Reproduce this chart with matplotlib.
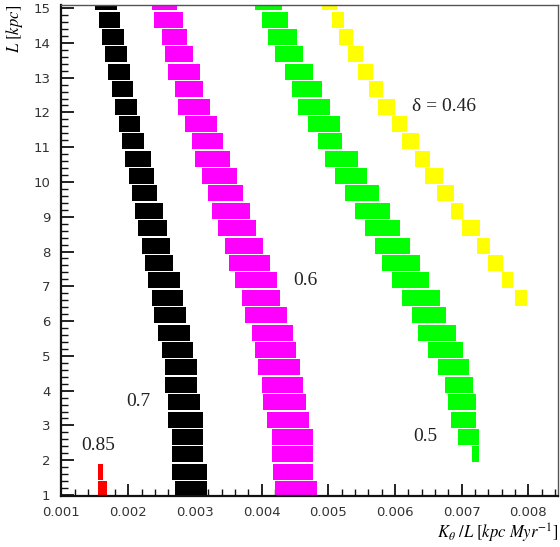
import numpy as np
import matplotlib
matplotlib.use('Agg')
import matplotlib.pyplot as plt
from matplotlib.ticker import MultipleLocator, FormatStrFormatter

plt.rcParams['mathtext.fontset'] = 'stix'

# L rows (kpc), top to bottom
L_rows = [15, 14.5, 14, 13.5, 13, 12.5, 12, 11.5, 11, 10.5, 10, 9.5, 9, 8.5, 8,
          7.5, 7, 6.5, 6, 5.5, 5, 4.5, 4, 3.5, 3, 2.5, 2, 1.5, 1]

# delta = 0.7 (black), x extent per row in kpc/Myr
black_lo = [0.001502, 0.001562, 0.001607, 0.001652, 0.001697, 0.001757, 0.001802,
            0.001862, 0.001907, 0.001952, 0.002012, 0.002057, 0.002102, 0.002147,
            0.002207, 0.002252, 0.002297, 0.002357, 0.002387, 0.002447, 0.002507,
            0.002552, 0.002552, 0.002597, 0.002597, 0.002657, 0.002657, 0.002657,
            0.002702]
black_hi = [0.001832, 0.001877, 0.001937, 0.001982, 0.002027, 0.002072, 0.002132,
            0.002177, 0.002237, 0.002342, 0.002387, 0.002432, 0.002522, 0.002582,
            0.002627, 0.002672, 0.002777, 0.002822, 0.002867, 0.002927, 0.002972,
            0.003031, 0.003031, 0.003076, 0.003121, 0.003121, 0.003121, 0.003181,
            0.003181]

# delta = 0.6 (magenta)
mag_lo = [0.002357, 0.002387, 0.002507, 0.002552, 0.002597, 0.002702, 0.002747,
          0.002852, 0.002957, 0.003001, 0.003106, 0.003196, 0.003256, 0.003346,
          0.003451, 0.003511, 0.003601, 0.003706, 0.003751, 0.003856, 0.003901,
          0.003946, 0.004006, 0.004021, 0.004081, 0.004156, 0.004156, 0.004171,
          0.004201]
mag_hi = [0.002732, 0.002822, 0.002882, 0.002972, 0.003076, 0.003121, 0.003226,
          0.003331, 0.003421, 0.003526, 0.003631, 0.003721, 0.003826, 0.003916,
          0.004021, 0.004126, 0.004231, 0.004276, 0.004381, 0.004471, 0.004516,
          0.004576, 0.004621, 0.004666, 0.004711, 0.004771, 0.004771, 0.004771,
          0.004831]

# delta = 0.5 (green), rows L = 15 ... 2
green_L = [15, 14.5, 14, 13.5, 13, 12.5, 12, 11.5, 11, 10.5, 10, 9.5, 9, 8.5, 8,
           7.5, 7, 6.5, 6, 5.5, 5, 4.5, 4, 3.5, 3, 2.5, 2]
green_lo = [0.003901, 0.004006, 0.004096, 0.004201, 0.004351, 0.004456, 0.004546,
            0.004696, 0.004846, 0.004951, 0.005100, 0.005250, 0.005400, 0.005550,
            0.005700, 0.005805, 0.005955, 0.006105, 0.006255, 0.006345, 0.006495,
            0.006645, 0.006750, 0.006795, 0.006840, 0.006945, 0.007154]
green_hi = [0.004306, 0.004396, 0.004531, 0.004621, 0.004771, 0.004906, 0.005025,
            0.005175, 0.005205, 0.005445, 0.005580, 0.005760, 0.005925, 0.006075,
            0.006225, 0.006375, 0.006510, 0.006675, 0.006765, 0.006915, 0.007019,
            0.007109, 0.007169, 0.007214, 0.007214, 0.007259, 0.007259]

# delta = 0.46 (yellow), rows L = 15 ... 6.5
yel_L = [15, 14.5, 14, 13.5, 13, 12.5, 12, 11.5, 11, 10.5, 10, 9.5, 9, 8.5, 8,
         7.5, 7, 6.5]
yel_lo = [0.004906, 0.005055, 0.005160, 0.005295, 0.005445, 0.005610, 0.005745,
          0.005955, 0.006105, 0.006300, 0.006450, 0.006630, 0.006840, 0.007004,
          0.007229, 0.007394, 0.007604, 0.007799]
yel_hi = [0.005130, 0.005235, 0.005370, 0.005520, 0.005670, 0.005820, 0.006000,
          0.006180, 0.006360, 0.006525, 0.006720, 0.006885, 0.007019, 0.007274,
          0.007424, 0.007619, 0.007769, 0.007979]

# delta = 0.85 (red)
red_L = [1.5, 1]
red_lo = [0.001547, 0.001547]
red_hi = [0.001622, 0.001682]

bands = [
    (L_rows, black_lo, black_hi, '#000000'),
    (L_rows, mag_lo, mag_hi, '#ff00ff'),
    (green_L, green_lo, green_hi, '#00ff00'),
    (yel_L, yel_lo, yel_hi, '#ffff00'),
    (red_L, red_lo, red_hi, '#ff0000'),
]

labels = ['0.85', '0.7', '0.6', '0.5', 'δ = 0.46']
label_x = [0.00155, 0.00215, 0.00465, 0.00645, 0.00673]
label_y = [2.41, 3.68, 7.18, 2.67, 12.16]

fig = plt.figure(figsize=(5.6, 5.47), dpi=100)
ax = fig.add_axes([0.1098, 0.0932, 0.8866, 0.8977])

for Ls, lo, hi, col in bands:
    Ls = np.array(Ls, dtype=float)
    lo = np.array(lo)
    hi = np.array(hi)
    ax.barh(Ls - 0.06, hi - lo, left=lo, height=0.46, align='edge',
            color=col, edgecolor='none', zorder=2)

serif = 'Liberation Serif'
for t, x, y in zip(labels, label_x, label_y):
    ax.text(x, y, t, ha='center', va='center', fontsize=14,
            family=serif, color='#222222')

ax.set_xlim(0.001, 0.008444)
ax.set_ylim(0.97, 15.09)

ax.xaxis.set_major_locator(MultipleLocator(0.001))
ax.xaxis.set_minor_locator(MultipleLocator(0.0002))
ax.xaxis.set_major_formatter(FormatStrFormatter('%.3f'))
ax.yaxis.set_major_locator(MultipleLocator(1))
ax.yaxis.set_minor_locator(MultipleLocator(0.2))

ax.tick_params(which='both', direction='in', top=False, right=False,
               colors='#111111', labelcolor='#333333', labelsize=9.5)
ax.tick_params(which='major', length=9, width=1.3)
ax.tick_params(which='minor', length=5, width=1.0)
ax.tick_params(axis='x', pad=7)
ax.tick_params(axis='y', pad=8)

for side in ['left', 'bottom']:
    ax.spines[side].set_linewidth(1.6)
    ax.spines[side].set_color('#111111')
ax.spines['top'].set_linewidth(1.0)
ax.spines['top'].set_color('#555555')
ax.spines['right'].set_linewidth(1.0)
ax.spines['right'].set_color('#555555')

ax.set_ylabel(r'$L\ [kpc]$', fontsize=12, loc='top')
ax.yaxis.set_label_coords(-0.073, 1.0)
ax.set_xlabel(r'$K_{\theta}\ /L\ [kpc\ Myr^{-1}]$', fontsize=12, loc='right')
ax.xaxis.set_label_coords(1.0, -0.052)

fig.savefig('out.png', dpi=100)
